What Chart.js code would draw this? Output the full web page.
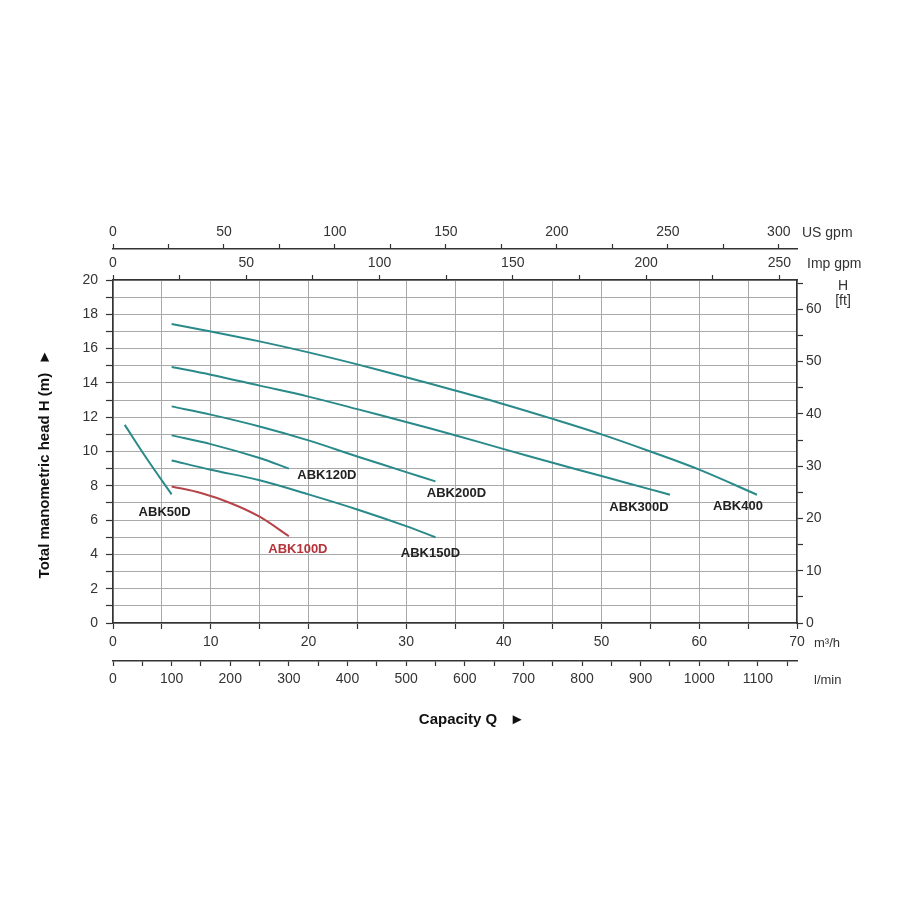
<!DOCTYPE html>
<html>
<head>
<meta charset="utf-8">
<style>
html,body{margin:0;padding:0;background:#fff;}
#wrap{width:900px;height:900px;position:relative;}
</style>
<script src="https://cdn.jsdelivr.net/npm/chart.js@4.4.0/dist/chart.umd.min.js"></script>
</head>
<body>
<div id="wrap"><canvas id="c"></canvas></div>
<script>
// ---- data (Q in m3/h, H in m) ----
const seriesNames = ['ABK50D','ABK100D','ABK120D','ABK150D','ABK200D','ABK300D','ABK400'];
const abk50dQ  = [1.2, 3.5, 6.0];
const abk50dH  = [11.55, 9.55, 7.5];
const abk100dQ = [6, 9, 12, 15, 18];
const abk100dH = [7.96, 7.58, 7.0, 6.2, 5.06];
const abk120dQ = [6, 10, 15, 18];
const abk120dH = [10.94, 10.43, 9.62, 9.0];
const abk150dQ = [6, 10, 15, 20, 25, 30, 33];
const abk150dH = [9.48, 8.94, 8.32, 7.5, 6.62, 5.65, 5.0];
const abk200dQ = [6, 10, 15, 20, 25, 30, 33];
const abk200dH = [12.63, 12.15, 11.46, 10.65, 9.71, 8.8, 8.26];
const abk300dQ = [6, 10, 15, 20, 25, 30, 35, 40, 45, 50, 55, 57];
const abk300dH = [14.93, 14.48, 13.84, 13.2, 12.47, 11.72, 10.95, 10.14, 9.34, 8.57, 7.79, 7.48];
const abk400Q  = [6, 10, 15, 20, 25, 30, 35, 40, 45, 50, 55, 60, 65.9];
const abk400H  = [17.43, 17.0, 16.42, 15.78, 15.08, 14.33, 13.56, 12.76, 11.9, 11.0, 10.0, 8.94, 7.48];

// axis ranges / unit conversions
const qMax = 70;          // m3/h
const hMax = 20;          // m
const usGpmPerM3h = 4.40287;
const impGpmPerM3h = 3.66615;
const lminPerM3h = 1000 / 60;
const ftPerM = 3.28084;

// ---- styles ----
const teal = '#2a8a8a';
const red = '#b5444a';
const seriesQ = [abk50dQ, abk100dQ, abk120dQ, abk150dQ, abk200dQ, abk300dQ, abk400Q];
const seriesH = [abk50dH, abk100dH, abk120dH, abk150dH, abk200dH, abk300dH, abk400H];
const seriesColors = [teal, red, teal, teal, teal, teal, teal];
const labelColors = ['#222', '#b5333a', '#222', '#222', '#222', '#222', '#222'];
const labelOffsetByName = {   // label position in px relative to the curve's last point
  'ABK50D':[-7,18],'ABK100D':[9,13],'ABK120D':[38,7],'ABK150D':[-5,16],
  'ABK200D':[21,12],'ABK300D':[-31,13],'ABK400':[-19,12]
};

const FONT = '"Liberation Sans", Arial, Helvetica, sans-serif';
Chart.defaults.font.family = FONT;
Chart.defaults.color = '#333';

const datasets = seriesNames.map((n, i) => ({
  label: n,
  data: seriesQ[i].map((q, j) => ({x: q, y: seriesH[i][j]})),
  borderColor: seriesColors[i],
  borderWidth: 2,
  pointRadius: 0,
  fill: false,
  tension: 0.35,
  xAxisID: 'x',
  yAxisID: 'y'
}));

const tickFont = {size: 14, family: FONT};
const axisCol = '#333';
const gridCol = '#a9a9a9';

function every(n) { return v => (Math.abs(v / n - Math.round(v / n)) < 1e-6 ? String(Math.round(v)) : ''); }

function auxAxis(position, weight, max, step, labelStep, size, pad, tl) {
  return {
    type: 'linear', position, weight, min: 0, max,
    grid: {drawOnChartArea: false, drawTicks: true, tickLength: tl, tickColor: axisCol, tickWidth: 1.2},
    border: {display: true, color: axisCol, width: 1.5},
    ticks: {stepSize: step, includeBounds: false, autoSkip: false, maxRotation: 0, minRotation: 0,
             maxTicksLimit: 1000, padding: pad, font: tickFont, color: '#333', callback: every(labelStep)},
    afterFit: s => { if (s.isHorizontal()) s.height = size; else s.width = size; }
  };
}

const annot = {
  id: 'annot',
  afterDraw(chart) {
    const {ctx, scales} = chart;
    ctx.save();
    ctx.fillStyle = '#333';
    ctx.textBaseline = 'middle';
    ctx.textAlign = 'left';
    ctx.font = '14px ' + FONT;
    ctx.fillText('US gpm', scales.xu.right + 5, scales.xu.bottom - 16);
    ctx.fillText('Imp gpm', scales.xi.right + 10, scales.xi.bottom - 16);
    ctx.font = '13px ' + FONT;
    ctx.fillText('m\u00B3/h', scales.x.right + 17, scales.x.top + 20);
    ctx.fillText('l/min', scales.xl.right + 17, scales.xl.top + 19);
    ctx.textAlign = 'center';
    ctx.font = '14px ' + FONT;
    ctx.fillText('H', scales.yf.left + 46, chart.chartArea.top + 6);
    ctx.fillText('[ft]', scales.yf.left + 46, chart.chartArea.top + 21);
    // curve labels
    ctx.font = 'bold 13px ' + FONT;
    seriesNames.forEach((n, i) => {
      const q = seriesQ[i][seriesQ[i].length - 1];
      const h = seriesH[i][seriesH[i].length - 1];
      const px = scales.x.getPixelForValue(q);
      const py = scales.y.getPixelForValue(h);
      const off = labelOffsetByName[n];
      ctx.fillStyle = labelColors[i];
      ctx.fillText(n, px + off[0], py + off[1]);
    });
    ctx.restore();
  }
};

new Chart(document.getElementById('c'), {
  type: 'line',
  data: {datasets},
  options: {
    responsive: true,
    maintainAspectRatio: false,
    animation: false,
    devicePixelRatio: 1,
    layout: {padding: {top: 214, bottom: 159, left: 0, right: 43}},
    plugins: {legend: {display: false}, tooltip: {enabled: false}},
    scales: {
      x: {
        type: 'linear', position: 'bottom', weight: 0, min: 0, max: qMax,
        grid: {color: gridCol, lineWidth: 1, drawTicks: true, tickLength: 6, tickColor: axisCol, tickWidth: 1.2},
        border: {display: true, color: axisCol, width: 1.5},
        ticks: {stepSize: 5, autoSkip: false, maxRotation: 0, minRotation: 0, maxTicksLimit: 1000,
                padding: 5, font: tickFont, color: '#333', callback: every(10)},
        afterFit: s => { s.height = 38; }
      },
      xl: Object.assign(auxAxis('bottom', 1, qMax * lminPerM3h, 50, 100, 80, 5, 5), {
        title: {display: true, text: '        Capacity Q   \u25BA', font: {size: 15, weight: 'bold', family: FONT},
                color: '#111', padding: {top: 0, bottom: 12}}
      }),
      xi: auxAxis('top', 1, qMax * impGpmPerM3h, 25, 50, 31, 3, 5),
      xu: auxAxis('top', 2, qMax * usGpmPerM3h, 25, 50, 35, 3, 5),
      y: {
        type: 'linear', position: 'left', min: 0, max: hMax,
        grid: {color: gridCol, lineWidth: 1, drawTicks: true, tickLength: 7, tickColor: axisCol, tickWidth: 1.2},
        border: {display: true, color: axisCol, width: 1.5},
        ticks: {stepSize: 1, autoSkip: false, maxTicksLimit: 1000, padding: 8, font: tickFont, color: '#333',
                callback: every(2)},
        title: {display: true, text: 'Total manometric head H (m)  \u25BA      ',
                font: {size: 15, weight: 'bold', family: FONT}, color: '#111', padding: {top: 36, bottom: 0}},
        afterFit: s => { s.width = 113; }
      },
      yf: auxAxis('right', 1, hMax * ftPerM, 5, 10, 60, 3, 6)
    }
  },
  plugins: [annot]
});
</script>
</body>
</html>
